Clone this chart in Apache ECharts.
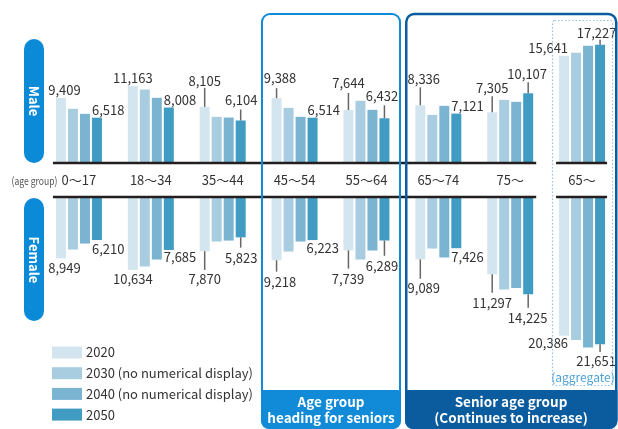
<!DOCTYPE html>
<html>
<head>
<meta charset="utf-8">
<script src="https://cdn.jsdelivr.net/npm/echarts@6/dist/echarts.min.js"></script>
<style>
  html, body { margin: 0; padding: 0; background: #fff; }
  #chart { width: 618px; height: 429px; }
</style>
</head>
<body>
<div id="chart"></div>
<script>
// Population by age group (thousands), male above the axis, female below
const categories = ['0～17', '18～34', '35～44', '45～54', '55～64', '65～74', '75～', '65～'];
const years = ['2020', '2030 (no numerical display)', '2040 (no numerical display)', '2050'];

const male2020 = [9409, 11163, 8105, 9388, 7644, 8336, 7305, 15641];
const male2030 = [7820, 10660, 6640, 7960, 9000, 6930, 9140, 16070];
const male2040 = [7080, 9440, 6540, 6640, 7670, 8260, 8850, 17110];
const male2050 = [6518, 8008, 6104, 6514, 6432, 7121, 10107, 17227];

const female2020 = [8949, 10634, 7870, 9218, 7739, 9089, 11297, 20386];
const female2030 = [7620, 10130, 6440, 7920, 9100, 7480, 13520, 21000];
const female2040 = [6740, 9100, 6300, 6440, 7770, 8800, 13320, 22120];
const female2050 = [6210, 7685, 5823, 6223, 6289, 7426, 14225, 21651];

const colors = ['#d3e6f0', '#a8cde0', '#7bb4d1', '#409cc2'];
const FONT = '"Noto Sans CJK JP", "Noto Sans", sans-serif';
const BAR_W = 10;
const BAR_GAP = 2;

// Value-label placement: [anchor, dx, dy, leader end (0 = no leader)]
const maleLabel2020 = [
  ['c', 3.5, -7.5, 0], ['c', 0, -8, 0], ['c', 0, -26, -19], ['c', 3.5, -20, -10],
  ['c', 0, -27, -17], ['c', 3.5, -26, -18], ['c', 0, -24, -16], ['r', -1, -8, 0]
];
const maleLabel2050 = [
  ['l', 0, -8, 0], ['l', 0, -7, 0], ['c', 0.5, -20, -11], ['l', 0, -8, 0],
  ['c', -2.5, -22, -13], ['l', 0, -8, 0], ['c', -1, -19, -11], ['c', -3.5, -12, -5]
];
const femaleLabel2020 = [
  ['c', 3.5, 9.3, 0], ['c', 0, 8.7, 0], ['c', 0, 27.7, 18.7], ['c', 3.5, 21.3, 11.3],
  ['c', -0.5, 28.3, 18.3], ['c', 3.5, 28.3, 19.3], ['c', 0, 28.3, 18.3], ['r', -1, 7.3, 0]
];
const femaleLabel2050 = [
  ['l', 0, 8.7, 0], ['l', 0, 7.3, 0], ['c', 0.5, 20.3, 10.3], ['l', -1, 8, 0],
  ['c', -2.5, 25.3, 15.3], ['l', 0, 9.3, 0], ['c', -0.5, 23.7, 13.7], ['c', -4, 16.7, 7.7]
];

const fmt = v => Math.round(v).toLocaleString('en-US');

function barSeries(name, data, color, gridIdx) {
  return {
    type: 'bar', name, data,
    xAxisIndex: gridIdx, yAxisIndex: gridIdx,
    barWidth: BAR_W, barGap: '20%',
    itemStyle: { color },
    emphasis: { disabled: true },
    animation: false
  };
}

function labelSeries(gridIdx, v2020, v2050, lay2020, lay2050) {
  return {
    type: 'custom',
    xAxisIndex: gridIdx, yAxisIndex: gridIdx,
    data: categories.map((_, i) => [i, v2020[i], v2050[i]]),
    z: 5, silent: true, animation: false,
    renderItem(params, api) {
      const i = api.value(0);
      const children = [];
      [[1, 0, lay2020], [2, 3, lay2050]].forEach(([dim, slot, lay]) => {
        const v = api.value(dim);
        const p = api.coord([i, v]);
        const bx = p[0] + (slot - 1.5) * (BAR_W + BAR_GAP);
        const [anchor, dx, dy, lead] = lay[i];
        let tx = bx + dx, ta = 'center';
        if (anchor === 'l') { tx = bx - BAR_W / 2 + dx; ta = 'left'; }
        if (anchor === 'r') { tx = bx + BAR_W / 2 + dx; ta = 'right'; }
        if (lead) {
          children.push({
            type: 'line',
            shape: { x1: bx, y1: p[1], x2: bx, y2: p[1] + lead },
            style: { stroke: '#666', lineWidth: 1.5 }
          });
        }
        children.push({
          type: 'text',
          style: {
            text: fmt(v), x: tx, y: p[1] + dy, align: ta, verticalAlign: 'middle',
            fontSize: 13, fontFamily: FONT, fill: '#333'
          }
        });
      });
      return { type: 'group', children };
    }
  };
}

// Thick baseline under each block of groups (0～17 … 75～, then 65～ on its own)
function baselineSeries(gridIdx, shift) {
  return {
    type: 'custom',
    xAxisIndex: gridIdx, yAxisIndex: gridIdx,
    data: [[0, 0]],
    z: 4, silent: true, animation: false,
    renderItem(params, api) {
      const a = api.coord([0, 0]);
      const b = api.coord([6, 0]);
      const c = api.coord([7, 0]);
      const y = a[1] + shift;
      const st = { stroke: '#231f20', lineWidth: 2.5 };
      return {
        type: 'group',
        children: [
          { type: 'line', shape: { x1: a[0] - 26, y1: y, x2: b[0] + 26, y2: y }, style: st },
          { type: 'line', shape: { x1: c[0] - 26, y1: y, x2: c[0] + 25, y2: y }, style: st }
        ]
      };
    }
  };
}

const chart = echarts.init(document.getElementById('chart'), null, { renderer: 'canvas' });

const option = {
  backgroundColor: '#fff',
  animation: false,
  textStyle: { fontFamily: FONT },
  grid: [
    { left: 43, width: 576, top: 26, height: 136 },
    { left: 43, width: 576, top: 198, height: 169 }
  ],
  xAxis: [
    {
      type: 'category', gridIndex: 0, data: categories, position: 'bottom',
      axisLine: { show: false }, axisTick: { show: false },
      axisLabel: { margin: 12, fontSize: 13, color: '#333', fontFamily: FONT, interval: 0 }
    },
    {
      type: 'category', gridIndex: 1, data: categories, position: 'top',
      axisLine: { show: false }, axisTick: { show: false }, axisLabel: { show: false }
    }
  ],
  yAxis: [
    { type: 'value', gridIndex: 0, min: 0, max: 20000, show: false, splitLine: { show: false } },
    { type: 'value', gridIndex: 1, min: 0, max: 25000, inverse: true, show: false, splitLine: { show: false } }
  ],
  legend: {
    data: years,
    orient: 'vertical',
    left: 52, top: 346,
    padding: 0,
    height: 83,
    icon: 'rect',
    itemWidth: 30, itemHeight: 12, itemGap: 7.7,
    selectedMode: false,
    textStyle: { fontSize: 13, lineHeight: 12, color: '#333', fontFamily: FONT, padding: [0, 0, 0, -1] }
  },
  series: [
    barSeries(years[0], male2020, colors[0], 0),
    barSeries(years[1], male2030, colors[1], 0),
    barSeries(years[2], male2040, colors[2], 0),
    barSeries(years[3], male2050, colors[3], 0),
    barSeries(years[0], female2020, colors[0], 1),
    barSeries(years[1], female2030, colors[1], 1),
    barSeries(years[2], female2040, colors[2], 1),
    barSeries(years[3], female2050, colors[3], 1),
    baselineSeries(0, 1),
    baselineSeries(1, -1),
    labelSeries(0, male2020, male2050, maleLabel2020, maleLabel2050),
    labelSeries(1, female2020, female2050, femaleLabel2020, femaleLabel2050)
  ],
  graphic: [
    // Male / Female pills
    { type: 'rect', left: 24, top: 39, z: 10, shape: { width: 20, height: 124, r: 10 }, style: { fill: '#0b8ad8' } },
    { type: 'text', x: 34, y: 101, rotation: -Math.PI / 2, z: 11,
      style: { text: 'Male', fill: '#fff', fontSize: 13, fontWeight: 'bold', fontFamily: FONT, align: 'center', verticalAlign: 'middle' } },
    { type: 'rect', left: 24, top: 198, z: 10, shape: { width: 20, height: 123, r: 10 }, style: { fill: '#0b8ad8' } },
    { type: 'text', x: 34, y: 260, rotation: -Math.PI / 2, z: 11,
      style: { text: 'Female', fill: '#fff', fontSize: 13, fontWeight: 'bold', fontFamily: FONT, align: 'center', verticalAlign: 'middle' } },
    { type: 'text', x: 34.5, y: 181, scaleX: 0.78, z: 11,
      style: { text: '(age group)', fill: '#555', fontSize: 11, fontFamily: FONT, align: 'center', verticalAlign: 'middle' } },

    // Group heading for seniors
    { type: 'rect', z: 10, shape: { x: 262, y: 14, width: 138, height: 414, r: 8 },
      style: { fill: 'none', stroke: '#118bd7', lineWidth: 2 } },
    { type: 'rect', z: 10, shape: { x: 261, y: 390, width: 140, height: 39, r: [0, 0, 8, 8] },
      style: { fill: '#118bd7' } },
    { type: 'text', x: 331, y: 410, z: 11,
      style: { text: 'Age group\nheading for seniors', fill: '#fff', fontSize: 13.5, fontWeight: 'bold', fontFamily: FONT,
               align: 'center', verticalAlign: 'middle', lineHeight: 16 } },

    // Senior age group
    { type: 'rect', z: 10, shape: { x: 406.25, y: 14, width: 210, height: 414, r: 8 },
      style: { fill: 'none', stroke: '#0b5c9e', lineWidth: 2.5 } },
    { type: 'rect', z: 10, shape: { x: 405, y: 390, width: 212.5, height: 39, r: [0, 0, 8, 8] },
      style: { fill: '#0b5c9e' } },
    { type: 'text', x: 511, y: 410, z: 11,
      style: { text: 'Senior age group\n(Continues to increase)', fill: '#fff', fontSize: 13.5, fontWeight: 'bold', fontFamily: FONT,
               align: 'center', verticalAlign: 'middle', lineHeight: 16 } },

    // Aggregate (65～) dotted frame
    { type: 'rect', z: 10, shape: { x: 552.5, y: 20.5, width: 60, height: 365, r: 2 },
      style: { fill: 'none', stroke: '#8fc2e4', lineWidth: 1.2, lineDash: [1.5, 2] } },
    { type: 'text', x: 583, y: 377, z: 11,
      style: { text: '(aggregate)', fill: '#4ea2d6', fontSize: 12, fontFamily: FONT, align: 'center', verticalAlign: 'middle' } }
  ]
};

chart.setOption(option);
</script>
</body>
</html>
